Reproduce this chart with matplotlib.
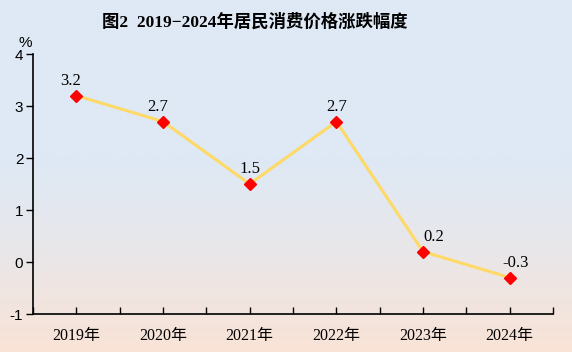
import numpy as np
import matplotlib.pyplot as plt
from matplotlib.colors import LinearSegmentedColormap

years = ["2019年", "2020年", "2021年", "2022年", "2023年", "2024年"]
cpi = [3.2, 2.7, 1.5, 2.7, 0.2, -0.3]
yticks = [-1, 0, 1, 2, 3, 4]
title = "图2  2019−2024年居民消费价格涨跌幅度"

serif = ["Liberation Serif", "Noto Sans CJK SC"]
sans = ["Liberation Sans", "DejaVu Sans"]

fig = plt.figure(figsize=(5.72, 3.52), dpi=100)

# background gradient: blue at top, peach at bottom
bg = fig.add_axes([0, 0, 1, 1], zorder=-1)
cmap = LinearSegmentedColormap.from_list(
    "bg", [(0.0, "#dee9f5"), (0.45, "#dee9f5"), (0.7, "#e8e7ea"), (1.0, "#f9e3d6")])
grad = np.linspace(0, 1, 256).reshape(-1, 1)
bg.imshow(grad, aspect="auto", cmap=cmap, extent=[0, 1, 0, 1], origin="upper")
bg.axis("off")

ax = fig.add_axes([33 / 572, 38 / 352, 520 / 572, 260 / 352])
ax.set_facecolor("none")
x = np.arange(len(years))
ax.plot(x, cpi, color="#ffd966", lw=2.2, zorder=2)
ax.plot(x, cpi, ls="none", marker="D", ms=6, color="#ff0000", zorder=3)
# small horizontal nudges of the value labels, in points
nudge = [-4, -4, 0, 0, 8, 4]
for xi, v, dx in zip(x, cpi, nudge):
    ax.annotate(f"{v:g}", (xi, v), xytext=(dx, 5), textcoords="offset points",
                ha="center", va="bottom", fontsize=12, family=serif)

ax.set_xlim(-0.5, 5.5)
ax.set_ylim(-1, 4)
ax.set_xticks(x)
ax.set_xticklabels(years, family=serif, fontsize=11.5)
ax.set_xticks(np.arange(-0.5, 5.6, 0.5), minor=True)
ax.tick_params(axis="x", which="both", direction="in", length=5, width=1, pad=10)
ax.set_yticks(yticks)
ax.set_yticklabels([str(t) for t in yticks], family=sans, fontsize=11)
ax.tick_params(axis="y", direction="out", length=5, width=1, pad=2)
for s in ["top", "right"]:
    ax.spines[s].set_visible(False)
for s in ["left", "bottom"]:
    ax.spines[s].set_linewidth(1.2)

fig.text(25 / 572, 1 - 43 / 352, "%", family=sans, fontsize=11, ha="center", va="center")
fig.text(255 / 572, 1 - 22 / 352, title, family=serif, fontsize=12.5,
         fontweight="bold", ha="center", va="center")

fig.savefig("out.png", dpi=100)
